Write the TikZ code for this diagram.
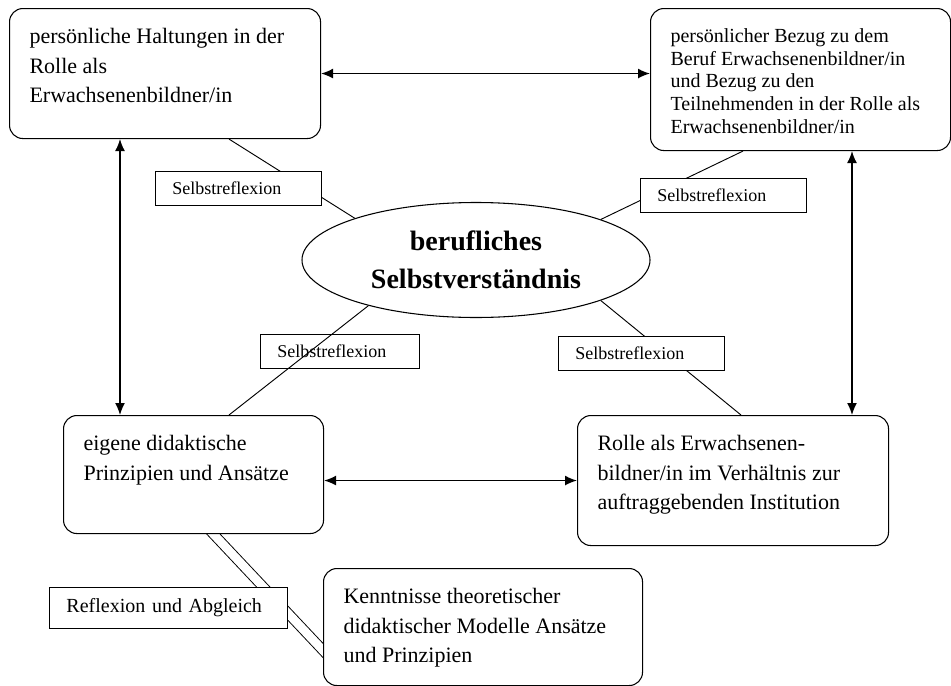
\documentclass[tikz,border=0pt]{standalone}
\usepackage{fontspec}
\setmainfont{Liberation Serif}
\usetikzlibrary{shapes.geometric,arrows.meta,calc,backgrounds}

\newcommand{\boxlines}[3]{\begin{minipage}[t][#1][t]{#2}\raggedright #3\end{minipage}}

\tikzset{
    rolebox/.style={draw, line width=0.8pt, rounded corners=10pt, fill=white, anchor=north west,
        inner xsep=15pt, inner ysep=15pt, font=\fontsize{16.5pt}{22pt}\selectfont},
    reflbox/.style={draw, line width=0.7pt, fill=white, anchor=north west, align=left,
        inner xsep=12.75pt, inner ysep=0pt, minimum height=25.5pt, text width=99pt,
        font=\fontsize{13.5pt}{16pt}\selectfont},
    core/.style={ellipse, draw, line width=0.8pt, fill=white, minimum width=261pt,
        minimum height=86.25pt, inner sep=0pt, align=center,
        font=\fontsize{21pt}{28.5pt}\selectfont\bfseries},
    link/.style={line width=0.7pt},
    twoway/.style={<->, >={Latex[length=9pt,width=7.5pt]}, line width=1.1pt}
}

\begin{document}
\begin{tikzpicture}[x=0.75pt, y=-0.75pt]
        \useasboundingbox (0,0) rectangle (951,686);

        \node[rolebox] (haltung) at (9,8) {\boxlines{67.5pt}{203.25pt}{persönliche Haltungen in der\\Rolle als\\Erwachsenenbildner/in}};
        \node[rolebox, font=\fontsize{15pt}{17pt}\selectfont] (bezug) at (650,8) {\boxlines{76.5pt}{195pt}{persönlicher Bezug zu dem\\Beruf Erwachsenenbildner/in\\und Bezug zu den\\Teilnehmenden in der Rolle als\\Erwachsenenbildner/in}};
        \node[rolebox] (prinzip) at (63,415) {\boxlines{58.5pt}{165pt}{eigene didaktische\\Prinzipien und Ansätze}};
        \node[rolebox] (institution) at (577,415) {\boxlines{67.5pt}{203.25pt}{Rolle als Erwachsenen-\\bildner/in im Verhältnis zur\\auftraggebenden Institution}};
        \node[rolebox] (modelle) at (323,568) {\boxlines{57.75pt}{209.25pt}{Kenntnisse theoretischer\\didaktischer Modelle Ansätze\\und Prinzipien}};
        \node[core] (selbst) at (476,260) {berufliches\\Selbstverständnis};

        \node[reflbox] (refl1) at (155,171) {Selbstreflexion};
        \node[reflbox] (refl2) at (640,178) {Selbstreflexion};
        \node[reflbox, text width=93.75pt] (refl3) at (260,334) {Selbstreflexion};
        \node[reflbox] (refl4) at (558,336) {Selbstreflexion};
        \node[reflbox, text width=153pt, minimum height=30.75pt, font=\fontsize{15pt}{18pt}\selectfont] (abgleich) at (49,587) {Reflexion und Abgleich};

        % lines behind the label boxes
        \begin{scope}[on background layer]
            \draw[link] ($(haltung.south west)+(220,0)$) -- (selbst.161);
            \draw[link] ($(bezug.south west)+(93,0)$) -- (selbst.18);
            \draw[link] (selbst.342) -- ($(institution.north west)+(164,0)$);
            \draw[link, double, double distance=6.5pt] ($(prinzip.south west)+(141,-10)$) -- ($(modelle.north west)+(9,92)$);
        \end{scope}
        \draw[link] (selbst.203) -- ($(prinzip.north west)+(166,0)$);

        \coordinate (leftup) at ($(haltung.south west)+(111,0)$);
        \coordinate (rightup) at ($(bezug.south west)+(202,0)$);
        \draw[twoway] (haltung.east) -- (haltung.east -| bezug.west);
        \draw[twoway] (leftup) -- (leftup |- prinzip.north);
        \draw[twoway] (rightup) -- (rightup |- institution.north);
        \draw[twoway] (prinzip.east |- institution.west) -- (institution.west);
\end{tikzpicture}
\end{document}
